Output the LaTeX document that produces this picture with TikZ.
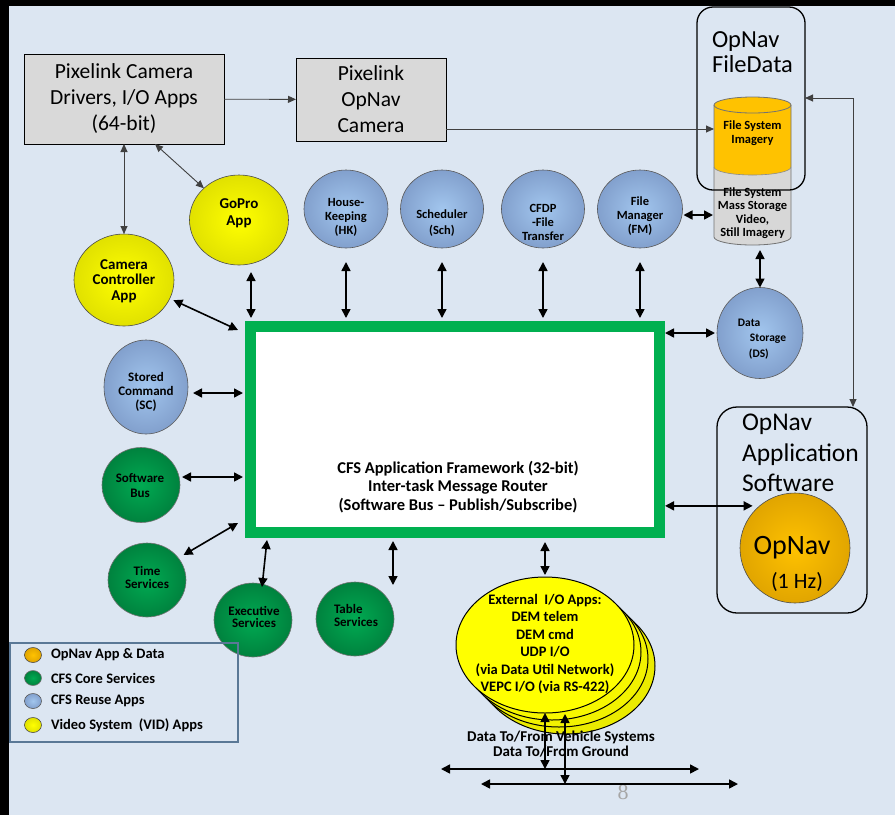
\documentclass[tikz,border=0pt]{standalone}
\usepackage{fontspec}
\setmainfont{Carlito}
\newfontfamily\pagenumfont{Liberation Serif}
\usetikzlibrary{arrows.meta,shapes.geometric,calc}
\definecolor{bg}{RGB}{220,230,242}
\definecolor{boxgray}{RGB}{217,217,217}
\definecolor{blueIn}{RGB}{162,198,238}
\definecolor{blueOut}{RGB}{130,160,205}
\definecolor{greenIn}{RGB}{0,170,82}
\definecolor{greenOut}{RGB}{0,130,62}
\definecolor{yellowIn}{RGB}{255,255,0}
\definecolor{yellowOut}{RGB}{225,225,0}
\definecolor{orangeIn}{RGB}{255,194,0}
\definecolor{orangeOut}{RGB}{225,165,0}
\definecolor{frameGreen}{RGB}{0,176,80}
\definecolor{legB}{RGB}{90,120,150}
\definecolor{cylGray}{RGB}{215,215,215}
\begin{document}
\begin{tikzpicture}[x=1pt,y=-1pt,
  every node/.style={inner sep=0pt, outer sep=0pt},
  ballB/.style={ellipse, draw=black!65, line width=0.6, shading=radial, inner color=blueIn, outer color=blueOut},
  ballG/.style={ellipse, draw=black!55, line width=0.6, shading=radial, inner color=greenIn, outer color=greenOut},
  ballY/.style={ellipse, draw=black!70, line width=0.6, shading=radial, inner color=yellowIn, outer color=yellowOut},
  ballO/.style={ellipse, draw=black!70, line width=0.6, shading=radial, inner color=orangeIn, outer color=orangeOut},
  txt/.style={align=center, font=\bfseries\fontsize{12.5}{14}\selectfont},
  graybox/.style={draw=black, line width=1, fill=boxgray, align=center, font=\fontsize{21.5}{26}\selectfont},
  thinone/.style={draw=black!75, line width=0.9, -{Triangle[length=8pt,width=7pt]}},
  thinboth/.style={draw=black!75, line width=0.9, {Triangle[length=8pt,width=7pt]}-{Triangle[length=8pt,width=7pt]}},
  dbl/.style={draw=black, line width=1.6, {Triangle[length=9pt,width=9pt]}-{Triangle[length=9pt,width=9pt]}}
]
\useasboundingbox (0,0) rectangle (895,815);
\fill[black] (0,0) rectangle (895,815);
\fill[bg] (9,6) rectangle (895,815);

% top boxes
\node[graybox, minimum width=200, minimum height=90] (b1) at (124,99) {Pixelink Camera\\Drivers, I/O Apps\\(64-bit)};
\node[graybox, minimum width=150, minimum height=83] (b2) at (371,99.5) {Pixelink\\OpNav\\Camera};

% cylinder
\fill[cylGray] (714,105) -- (714,237) arc[start angle=180,end angle=360,x radius=38.5pt,y radius=8pt] -- (791,105) -- cycle;
\fill[orangeIn] (714,105) -- (714,167) arc[start angle=180,end angle=360,x radius=38.5pt,y radius=8pt] -- (791,105) -- cycle;
\draw[black!55, line width=0.8] (714,105) -- (714,237) arc[start angle=180,end angle=360,x radius=38.5pt,y radius=8pt] -- (791,105);
\draw[black!45, line width=0.6] (714,167) arc[start angle=180,end angle=360,x radius=38.5pt,y radius=8pt];
\filldraw[fill=orangeIn, draw=black!55, line width=0.8] (752.5,105) ellipse[x radius=38.5pt, y radius=8pt];
\node[minimum width=77, minimum height=148] (cyl) at (752.5,171) {};
\coordinate (cylA) at (714,129);
\node[txt] (cylT1) at (752.5,133.5) {File System\\Imagery};
\node[txt, font=\bfseries\fontsize{12.5}{13.5}\selectfont] (cylT2) at (752.5,213) {File System\\Mass Storage\\Video,\\Still Imagery};

% OpNav FileData box
\draw[black, line width=1.3, rounded corners=16] (697,7) rectangle (805,190);
\node[minimum width=108, minimum height=183] (fd) at (751,98.5) {};
\node[anchor=west, align=left, font=\fontsize{24.5}{25.5}\selectfont] (fdT) at (712,52) {OpNav\\FileData};

% OpNav application software box
\draw[black, line width=1.3, rounded corners=20] (717,407) rectangle (867,613);
\node[minimum width=150, minimum height=206] (oas) at (792,510) {};
\node[anchor=west, align=left, font=\fontsize{25.5}{30.5}\selectfont] (oasT) at (742,453) {OpNav\\Application\\Software};

% green framework box
\node[draw=frameGreen, fill=white, line width=11, outer sep=5.5, minimum width=409, minimum height=206] (G) at (455,429.5) {};
\node[align=center, font=\bfseries\fontsize{16.5}{18.5}\selectfont] (GT) at (458,487) {CFS Application Framework (32-bit)\\Inter-task Message Router\\(Software Bus -- Publish/Subscribe)};

% blue reuse apps
\node[ballB, minimum width=84, minimum height=78] (hk) at (346,209) {};
\node[ballB, minimum width=83, minimum height=78] (sch) at (442,209) {};
\node[ballB, minimum width=83, minimum height=78] (cfdp) at (543,209) {};
\node[ballB, minimum width=85, minimum height=78] (fm) at (640,209) {};
\node[ballB, minimum width=86, minimum height=91] (ds) at (760,333) {};
\node[ballB, minimum width=84, minimum height=94] (sc) at (146,387) {};
\node[txt] (hkT) at (346,217) {House-\\Keeping\\(HK)};
\node[txt, font=\bfseries\fontsize{12.5}{16}\selectfont] (schT) at (442,223) {Scheduler\\(Sch)};
\node[txt] (cfdpT) at (543,222) {CFDP\\-File\\Transfer};
\node[txt] (fmT) at (640,216) {File\\Manager\\(FM)};
\node[align=left, font=\bfseries\fontsize{11.5}{15.5}\selectfont] (dsT) at (762,339) {Data\\\hspace*{12pt}Storage\\\hspace*{11pt}(DS)};
\node[txt, font=\bfseries\fontsize{13}{14}\selectfont] (scT) at (146,392) {Stored\\Command\\(SC)};

% yellow video apps
\node[ballY, minimum width=100, minimum height=92] (camc) at (124,280) {};
\node[ballY, minimum width=99, minimum height=90] (gopro) at (239,220) {};
\node[txt, font=\bfseries\fontsize{15}{15.5}\selectfont] (camcT) at (124,281) {Camera\\Controller\\App};
\node[txt, font=\bfseries\fontsize{15}{17}\selectfont] (goproT) at (239,213.5) {GoPro\\App};

% green core services
\node[ballG, minimum width=78, minimum height=75] (swb) at (141,485) {};
\node[ballG, minimum width=78, minimum height=74] (tim) at (147,580) {};
\node[ballG, minimum width=78, minimum height=74] (exe) at (253,620) {};
\node[ballG, minimum width=78, minimum height=74] (tbl) at (355,619) {};
\node[txt, font=\bfseries\fontsize{13}{15}\selectfont] (swbT) at (140,485.5) {Software\\Bus};
\node[txt, font=\bfseries\fontsize{13}{13}\selectfont] (timT) at (147,577) {Time\\Services};
\node[txt, font=\bfseries\fontsize{13}{12}\selectfont] (exeT) at (254,617) {Executive\\Services};
\node[txt, align=left, font=\bfseries\fontsize{13}{13}\selectfont] (tblT) at (356,615.5) {Table\\Services};

% OpNav circle
\node[ballO, minimum width=110, minimum height=110] (on) at (795,548) {};
\node[font=\fontsize{28}{30}\selectfont] (onT1) at (792,548) {OpNav};
\node[font=\fontsize{22}{24}\selectfont] (onT2) at (797,582) {(1 Hz)};

% external I/O stack
\node[ellipse, draw=black, line width=1, fill=yellowIn!92!black, minimum width=178, minimum height=136] (ext3) at (566,666) {};
\node[ellipse, draw=black, line width=1, fill=yellowIn!95!black, minimum width=178, minimum height=136] (ext2) at (559,659) {};
\node[ellipse, draw=black, line width=1, fill=yellowIn!97!black, minimum width=178, minimum height=136] (ext1) at (552,652) {};
\node[ellipse, draw=black, line width=1, fill=yellowIn, minimum width=178, minimum height=136] (ext) at (545,645) {};
\node[align=center, font=\bfseries\fontsize{14.5}{17.4}\selectfont] (extT) at (545,644) {External\ \ I/O Apps:\\DEM telem\\DEM cmd\\UDP I/O\\(via Data Util Network)\\VEPC I/O (via RS-422)};

% bottom data text
\node[align=center, font=\bfseries\fontsize{15}{15}\selectfont] (botT) at (561,744.5) {Data To/From Vehicle Systems\\Data To/From Ground};
\node[font=\pagenumfont\fontsize{22}{22}\selectfont, text=black!35] (pg) at (623,792) {8};

% legend
\node[draw=legB, line width=1.5, minimum width=228, minimum height=99, anchor=north west] (leg) at (10,643) {};
\node[ballO, minimum width=17, minimum height=15] (lg1) at (33,655) {};
\node[ballG, minimum width=17, minimum height=15] (lg2) at (33,678) {};
\node[ballB, minimum width=17, minimum height=15] (lg3) at (33,701) {};
\node[ballY, minimum width=17, minimum height=15] (lg4) at (33,725) {};
\node[anchor=west, font=\bfseries\fontsize{14.5}{15}\selectfont] (lgT1) at (51,655) {OpNav App \& Data};
\node[anchor=west, font=\bfseries\fontsize{14.5}{15}\selectfont] (lgT2) at (51,678) {CFS Core Services};
\node[anchor=west, font=\bfseries\fontsize{14.5}{15}\selectfont] (lgT3) at (51,701) {CFS Reuse Apps};
\node[anchor=west, font=\bfseries\fontsize{14.5}{15}\selectfont] (lgT4) at (51,725) {Video System\ \ (VID) Apps};

% thin connectors
\draw[thinone] (b1) -- (b2);
\draw[thinone] (b2.east |- cylA) -- (cylA);
\coordinate (rc) at (853,98);
\draw[thinboth] (fd.east |- rc) -- (rc) -- (rc |- oas.north);
\draw[thinboth] (b1.south -| camc) -- (camc.north);
\draw[thinboth] ([xshift=31pt]b1.south) -- (gopro);

% thick double connectors
\foreach \n in {hk,sch,cfdp,fm}
  \draw[dbl, shorten >=3pt] ([yshift=-14pt]\n.south) -- (\n.south |- G.north);
\draw[dbl, shorten >=3pt] ([xshift=12pt,yshift=-7pt]gopro.south) -- ([xshift=12pt]gopro.south |- G.north);
\draw[dbl, shorten <=4pt] (camc.-22) -- ([xshift=-7pt,yshift=-9pt]G.north west);
\draw[dbl, shorten <=5pt, shorten >=2pt] ([yshift=-6pt]sc.east) -- ([yshift=-6pt]sc.east -| G.west);
\draw[dbl, shorten <=2pt, shorten >=2pt] ([yshift=8pt]swb.east) -- ([yshift=8pt]swb.east -| G.west);
\draw[dbl, shorten <=6pt] (tim.35) -- ([xshift=-7pt,yshift=15pt]G.south west);
\draw[dbl] ([xshift=9pt,yshift=-4pt]exe.north) -- ([xshift=14pt,yshift=-2pt]exe.north |- G.south);
\coordinate (tA) at (393,585);
\draw[dbl, shorten <=3pt] (G.south -| tA) -- (tA);
\draw[dbl, shorten <=4pt, shorten >=2pt] (ext.north |- G.south) -- (ext.north);
\draw[dbl, shorten >=7pt] (on.130 -| G.east) -- (on.130);
\draw[dbl, shorten >=2pt] (ds.west -| G.east) -- (ds.west);
\draw[dbl, shorten <=1pt, shorten >=1pt] ([yshift=-6pt]fm.east) -- ([yshift=-6pt]fm.east -| cyl.west);
\draw[dbl, shorten <=5pt] (ds.north |- cyl.south) -- (ds.north);

% bottom lines
\coordinate (L1a) at (441,769);
\coordinate (L1b) at (699,769);
\coordinate (L2a) at (481,784);
\coordinate (L2b) at (738,784);
\draw[dbl] (L1a) -- (L1b);
\draw[dbl] (L2a) -- (L2b);
\draw[dbl] (ext.south) -- (ext.south |- L1a);
\draw[dbl] ([xshift=20pt,yshift=-1pt]ext.south) -- ([xshift=20pt]ext.south |- L2a);
\end{tikzpicture}
\end{document}
